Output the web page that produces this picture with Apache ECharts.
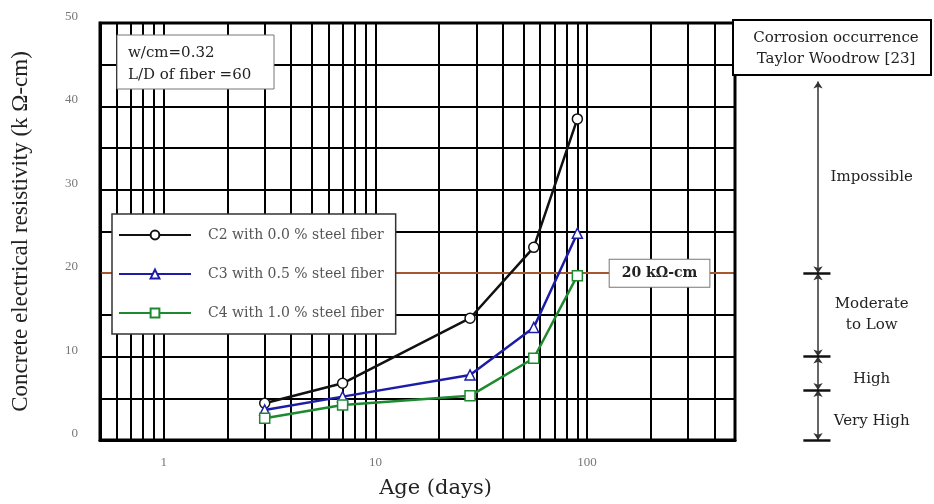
<!DOCTYPE html>
<html><head><meta charset="utf-8">
<script src="https://cdn.jsdelivr.net/npm/echarts@6/dist/echarts.min.js"></script>
<style>html,body{margin:0;padding:0;background:#fff}#c{width:934px;height:504px}</style>
</head><body><div id="c"></div>
<script>
const ages = [3, 7, 28, 56, 90];
const c2 = [4.4, 6.8, 14.6, 23.1, 38.5];
const c3 = [3.6, 5.2, 7.8, 13.5, 24.8];
const c4 = [2.6, 4.2, 5.3, 9.8, 19.7];
const seriesNames = ['C2 with 0.0 % steel fiber', 'C3 with 0.5 % steel fiber', 'C4 with 1.0 % steel fiber'];
const xGridValues = [0.6, 0.7, 0.8, 0.9, 1, 2, 3, 4, 5, 6, 7, 8, 9, 10, 20, 30, 40, 50, 60, 70, 80, 90, 100, 200, 300, 400];
const xLabelValues = [1, 10, 100];
const threshold = 20;
const thresholdLabel = '20 k\u03A9-cm';
const zoneBounds = [0, 6, 10, 20, 43];
const zoneLabels = ['Very High', 'High', 'Moderate\nto Low', 'Impossible'];

const SERIF = '"Liberation Serif", "DejaVu Serif", serif';
const WIDE = '"DejaVu Serif", "Liberation Serif", serif';
const chart = echarts.init(document.getElementById('c'));

function pairs(xs, ys) { return xs.map((x, i) => [x, ys[i]]); }

const arrowX = 0.423, tickX0 = 0.35, tickX1 = 0.485, labelX = 0.69;
const zoneArrows = [];
for (let i = 0; i < zoneBounds.length - 1; i++) {
  zoneArrows.push([{coord: [arrowX, zoneBounds[i]]}, {coord: [arrowX, zoneBounds[i + 1]]}]);
}
const zoneTicks = zoneBounds.slice(0, -1).map(b => [
  {coord: [tickX0, b], symbol: 'none', lineStyle: {width: 2.5, color: '#111'}},
  {coord: [tickX1, b], symbol: 'none'}
]);
const zoneTexts = zoneLabels.map((t, i) => ({
  coord: [labelX, (zoneBounds[i] + zoneBounds[i + 1]) / 2],
  label: {formatter: t, offset: [0, i < 2 ? 6 : 0]}
}));

const option = {
  animation: false,
  backgroundColor: '#fff',
  grid: [
    {left: 100, right: 199, top: 23, bottom: 64, show: true, borderColor: '#000', borderWidth: 3, z: 5},
    {left: 733, width: 201, top: 23, bottom: 64, show: false}
  ],
  xAxis: [
    {
      type: 'log', logBase: 10, min: 0.5, max: 500, gridIndex: 0,
      name: 'Age (days)', nameLocation: 'middle', nameGap: 38,
      nameTextStyle: {fontFamily: WIDE, fontSize: 21, color: '#222', padding: [0, 0, 0, 36]},
      axisLine: {show: true, lineStyle: {color: '#000', width: 3}},
      axisTick: {show: false},
      splitLine: {show: false},
      axisLabel: {
        margin: 16, fontFamily: SERIF, fontSize: 13, color: '#777',
        showMinLabel: false, showMaxLabel: false,
        formatter: v => xLabelValues.some(l => Math.abs(l - v) < 1e-6 * l) ? String(Math.round(v)) : ''
      }
    },
    {type: 'value', min: 0, max: 1, gridIndex: 1, show: false}
  ],
  yAxis: [
    {
      type: 'value', min: 0, max: 50, interval: 5, gridIndex: 0,
      name: 'Concrete electrical resistivity (k \u03A9-cm)', nameLocation: 'middle', nameGap: 68,
      nameTextStyle: {fontFamily: SERIF, fontSize: 23, color: '#222'},
      axisLine: {show: true, lineStyle: {color: '#000', width: 3}},
      axisTick: {show: false},
      splitLine: {show: true, lineStyle: {color: '#000', width: 2}},
      axisLabel: {
        margin: 22, fontFamily: SERIF, fontSize: 13, color: '#777', verticalAlign: 'bottom',
        formatter: v => (v % 10 === 0 ? String(v) : '')
      }
    },
    {type: 'value', min: 0, max: 50, gridIndex: 1, show: false}
  ],
  legend: {
    orient: 'vertical', left: 112, top: 214,
    data: seriesNames,
    backgroundColor: '#fff', borderColor: '#333', borderWidth: 1.5,
    padding: [14, 12, 14, 6],
    itemWidth: 72, itemHeight: 11, itemGap: 25,
    textStyle: {fontFamily: WIDE, fontSize: 14, color: '#555', padding: [0, 0, 0, 12]},
    z: 10
  },
  graphic: [
    {type: 'rect', x: 117, y: 35, z: 100, zlevel: 1, shape: {x: 0, y: 0, width: 157, height: 54},
     style: {fill: '#fff', stroke: '#777', lineWidth: 1}},
    {type: 'text', x: 128, y: 42, z: 101, zlevel: 1,
     style: {text: 'w/cm=0.32\nL/D of fiber =60', font: '15px ' + WIDE, fill: '#222', lineHeight: 22}},
    {type: 'rect', x: 733, y: 20, z: 100, zlevel: 1, shape: {x: 0, y: 0, width: 198, height: 55},
     style: {fill: '#fff', stroke: '#000', lineWidth: 2}},
    {type: 'text', x: 836, y: 28, z: 101, zlevel: 1,
     style: {text: 'Corrosion occurrence\nTaylor Woodrow [23]', font: '15px ' + WIDE, fill: '#222', lineHeight: 21, align: 'center'}}
  ],
  series: [
    {
      type: 'line', name: '_grid', xAxisIndex: 0, yAxisIndex: 0, data: [], z: 1, silent: true,
      markLine: {
        silent: true, symbol: 'none', z: 1,
        label: {show: false},
        lineStyle: {color: '#000', width: 2, type: 'solid'},
        data: xGridValues.map(v => ({xAxis: v}))
      }
    },
    {
      type: 'line', name: '_threshold', xAxisIndex: 0, yAxisIndex: 0, data: [], z: 3, silent: true,
      markLine: {
        silent: true, symbol: 'none', z: 3,
        label: {show: false},
        lineStyle: {color: '#e0733c', width: 1.5, type: 'solid'},
        data: [{yAxis: threshold}]
      },
      markPoint: {
        silent: true, symbol: 'rect', symbolSize: 0, z: 6,
        data: [{coord: [220, threshold]}],
        label: {
          show: true, position: 'inside', formatter: thresholdLabel,
          fontFamily: WIDE, fontSize: 14, fontWeight: 'bold', color: '#222',
          backgroundColor: '#fff', borderColor: '#777', borderWidth: 1,
          padding: [7, 12, 6, 12]
        }
      }
    },
    {
      type: 'line', name: seriesNames[0], data: pairs(ages, c2), z: 7,
      symbol: 'circle', symbolSize: 10, color: '#111',
      lineStyle: {color: '#111', width: 2.5},
      itemStyle: {color: '#fff', borderColor: '#111', borderWidth: 1.5}
    },
    {
      type: 'line', name: seriesNames[1], data: pairs(ages, c3), z: 7,
      symbol: 'triangle', symbolSize: 10, color: '#1c1ca8',
      lineStyle: {color: '#1c1ca8', width: 2.5},
      itemStyle: {color: '#fff', borderColor: '#1c1ca8', borderWidth: 1.5}
    },
    {
      type: 'line', name: seriesNames[2], data: pairs(ages, c4), z: 7,
      symbol: 'rect', symbolSize: 10, color: '#1e8a30',
      lineStyle: {color: '#1e8a30', width: 2.5},
      itemStyle: {color: '#fff', borderColor: '#1e8a30', borderWidth: 1.5}
    },
    {
      type: 'line', name: '_zones', xAxisIndex: 1, yAxisIndex: 1, data: [], silent: true,
      markLine: {
        silent: true, symbol: ['arrow', 'arrow'], symbolSize: 7,
        label: {show: false},
        lineStyle: {color: '#333', width: 1.5, type: 'solid'},
        data: zoneArrows.concat(zoneTicks)
      },
      markPoint: {
        silent: true, symbol: 'rect', symbolSize: 0,
        label: {show: true, position: 'inside', fontFamily: WIDE, fontSize: 15, color: '#222', lineHeight: 21, align: 'center'},
        data: zoneTexts
      }
    }
  ]
};
chart.setOption(option);
</script></body></html>
